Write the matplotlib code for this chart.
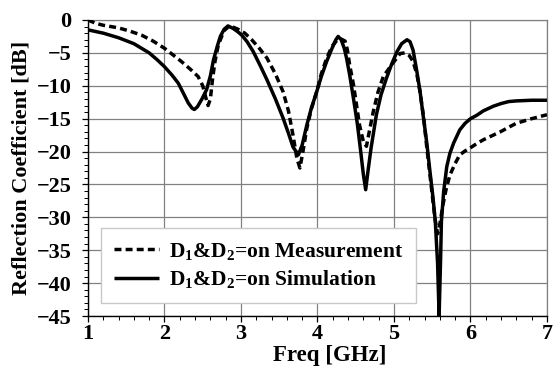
import matplotlib
matplotlib.use("Agg")
import matplotlib.pyplot as plt
from matplotlib.ticker import MultipleLocator

plt.rcParams['font.family'] = ['Liberation Serif', 'DejaVu Serif']
plt.rcParams['font.weight'] = 'bold'
plt.rcParams['mathtext.fontset'] = 'custom'
plt.rcParams['mathtext.rm'] = 'Liberation Serif:bold'
plt.rcParams['mathtext.it'] = 'Liberation Serif:bold'
plt.rcParams['mathtext.bf'] = 'Liberation Serif:bold'

# Simulation (solid)
sim_f = [1.00, 1.20, 1.40, 1.60, 1.70, 1.80, 1.90, 2.00, 2.10, 2.18, 2.25, 2.31,
         2.36, 2.39, 2.43, 2.49, 2.55, 2.60, 2.64, 2.69, 2.73, 2.78, 2.83, 2.90,
         2.96, 3.01, 3.08, 3.16, 3.25, 3.34, 3.45, 3.55, 3.62, 3.68, 3.75, 3.80,
         3.86, 3.92, 3.99, 4.05, 4.12, 4.19, 4.24, 4.27, 4.31, 4.35, 4.38, 4.42,
         4.47, 4.52, 4.56, 4.60, 4.63, 4.66, 4.70, 4.77, 4.83, 4.90, 4.97, 5.04,
         5.10, 5.17, 5.21, 5.25, 5.30, 5.34, 5.38, 5.43, 5.47, 5.51, 5.54, 5.57,
         5.59, 5.61, 5.62, 5.65, 5.69, 5.73, 5.78, 5.86, 5.93, 6.00, 6.08, 6.17,
         6.30, 6.40, 6.50, 6.60, 6.80, 7.00]
sim_db = [-1.5, -2.0, -2.7, -3.6, -4.3, -5.0, -6.0, -7.1, -8.4, -9.6, -11.2, -12.6,
          -13.4, -13.6, -13.2, -12.0, -10.6, -8.5, -6.1, -4.0, -2.5, -1.4, -0.9, -1.3,
          -1.8, -2.3, -3.3, -4.8, -6.9, -9.1, -12.0, -14.9, -17.2, -19.3, -20.5, -19.0,
          -16.0, -13.4, -10.9, -8.6, -6.3, -4.3, -3.0, -2.5, -3.0, -4.3, -5.8, -8.3,
          -11.9, -15.7, -19.5, -23.5, -25.8, -23.0, -19.5, -14.4, -11.4, -8.9, -6.7, -4.8,
          -3.6, -3.0, -3.3, -4.6, -7.9, -10.8, -14.4, -18.8, -23.0, -27.0, -30.6, -37.0,
          -45.0, -36.0, -30.6, -26.0, -22.3, -20.3, -18.7, -16.7, -15.7, -15.0, -14.5, -13.8,
          -13.1, -12.7, -12.4, -12.3, -12.2, -12.2]

# Measurement (dashed)
meas_f = [1.00, 1.10, 1.20, 1.40, 1.55, 1.70, 1.85, 2.00, 2.10, 2.22, 2.33, 2.44,
          2.50, 2.54, 2.57, 2.60, 2.63, 2.66, 2.70, 2.73, 2.78, 2.84, 2.90, 2.96,
          3.05, 3.14, 3.24, 3.34, 3.45, 3.55, 3.62, 3.68, 3.73, 3.77, 3.81, 3.86,
          3.92, 3.99, 4.05, 4.12, 4.19, 4.26, 4.31, 4.36, 4.39, 4.42, 4.47, 4.51,
          4.55, 4.60, 4.64, 4.68, 4.73, 4.79, 4.86, 4.97, 5.08, 5.14, 5.20, 5.25,
          5.30, 5.34, 5.39, 5.43, 5.47, 5.51, 5.54, 5.57, 5.60, 5.64, 5.68, 5.73,
          5.80, 5.86, 5.93, 5.99, 6.08, 6.17, 6.28, 6.39, 6.50, 6.60, 6.80, 7.00]
meas_db = [0.0, -0.5, -0.8, -1.2, -1.7, -2.3, -3.2, -4.3, -5.2, -6.3, -7.4, -8.6,
           -10.0, -11.8, -13.0, -12.0, -8.8, -6.3, -4.0, -3.0, -1.6, -1.0, -1.1, -1.4,
           -2.0, -3.0, -4.3, -5.8, -8.2, -10.9, -13.8, -17.5, -21.0, -22.5, -20.0, -16.5,
           -13.5, -10.9, -8.2, -5.8, -4.0, -3.0, -2.9, -3.2, -4.5, -6.8, -9.8, -12.9,
           -16.0, -18.5, -19.2, -16.8, -13.9, -11.0, -8.6, -6.8, -5.1, -5.0, -5.4, -6.3,
           -8.3, -10.9, -15.0, -19.5, -23.5, -27.6, -30.5, -32.5, -31.0, -28.1, -25.8, -23.6,
           -21.8, -20.5, -19.9, -19.5, -18.8, -18.2, -17.6, -17.0, -16.3, -15.7, -15.0, -14.4]

labels = [r'$\mathrm{D_1}$&$\mathrm{D_2}$=on Measurement',
          r'$\mathrm{D_1}$&$\mathrm{D_2}$=on Simulation']

fig = plt.figure(figsize=(5.59, 3.69), dpi=100)
ax = fig.add_axes([0.1574, 0.1436, 0.8211, 0.8022])

ax.plot(meas_f, meas_db, color='black', lw=2.5, linestyle=(0, (2.0, 1.2)),
        dash_capstyle='butt', label=labels[0], zorder=3)
ax.plot(sim_f, sim_db, color='black', lw=2.5, solid_capstyle='butt',
        solid_joinstyle='round', label=labels[1], zorder=3)

ax.set_xlim(1, 7)
ax.set_ylim(-45, 0)
ax.xaxis.set_major_locator(MultipleLocator(1))
ax.xaxis.set_minor_locator(MultipleLocator(0.2))
ax.yaxis.set_major_locator(MultipleLocator(5))
ax.yaxis.set_minor_locator(MultipleLocator(1))
ax.grid(True, which='major', color='#808080', lw=0.9)
ax.set_axisbelow(True)

for s in ['top', 'right']:
    ax.spines[s].set_color('#808080')
    ax.spines[s].set_linewidth(0.9)
for s in ['left', 'bottom']:
    ax.spines[s].set_color('black')
    ax.spines[s].set_linewidth(1.0)

ax.tick_params(which='major', direction='out', length=4, width=0.9, labelsize=16)
ax.tick_params(which='minor', direction='out', length=3, width=0.7)
ax.tick_params(axis='y', which='major', pad=8)
ax.tick_params(axis='x', which='major', pad=2)
ax.tick_params(top=False, right=False, which='both')

ax.set_xlabel('Freq [GHz]', fontsize=16.5, fontweight='bold')
ax.set_ylabel('Reflection Coefficient [dB]', fontsize=16, fontweight='bold')
ax.xaxis.set_label_coords(0.527, -0.098)
ax.yaxis.set_label_coords(-0.124, 0.5)

leg = ax.legend(loc='lower left', bbox_to_anchor=(0.028, 0.044), borderaxespad=0,
                fontsize=15.5, handlelength=2.1, handletextpad=0.45,
                labelspacing=0.3, borderpad=0.6, fancybox=False, framealpha=1)
leg.get_frame().set_edgecolor('#c8c8c8')
leg.get_frame().set_linewidth(1.0)

fig.savefig('out.png', dpi=100)
